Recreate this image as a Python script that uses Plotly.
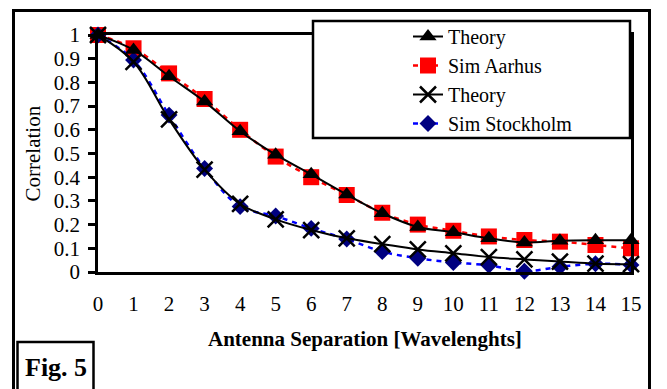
import plotly.graph_objects as go

# ---- data ----
separation = list(range(16))
theory_aarhus = [1.0, 0.937, 0.826, 0.719, 0.594, 0.495, 0.412, 0.327, 0.248, 0.19, 0.168, 0.142, 0.125, 0.132, 0.134, 0.134]
sim_aarhus = [1.0, 0.944, 0.838, 0.73, 0.60, 0.487, 0.40, 0.325, 0.25, 0.20, 0.174, 0.15, 0.135, 0.128, 0.114, 0.10]
theory_stockholm = [1.0, 0.887, 0.644, 0.432, 0.287, 0.222, 0.177, 0.142, 0.118, 0.095, 0.079, 0.063, 0.053, 0.044, 0.035, 0.033]
sim_stockholm = [1.0, 0.894, 0.662, 0.437, 0.276, 0.236, 0.184, 0.139, 0.086, 0.058, 0.04, 0.028, 0.003, 0.022, 0.035, 0.03]

x_tick_labels = [str(v) for v in separation]

W, H = 667, 389
L, R, T, B = 98, 667 - 631, 35, 389 - 272
PW, PH = W - L - R, H - T - B


def px(xp):
    return (xp - L) / PW


def py(yp):
    return (H - B - yp) / PH


FONT = "Liberation Serif"

fig = go.Figure()

fig.add_trace(go.Scatter(
    x=separation, y=sim_aarhus, name="Sim Aarhus", mode="lines+markers",
    line=dict(color="#FF0000", width=2.5, dash="5px,5px", shape="spline", smoothing=1),
    marker=dict(symbol="square", size=16, color="#FF0000"),
    cliponaxis=False, legendrank=2,
))
fig.add_trace(go.Scatter(
    x=separation, y=sim_stockholm, name="Sim Stockholm", mode="lines+markers",
    line=dict(color="#0000FF", width=2.5, dash="5px,5px", shape="spline", smoothing=1),
    marker=dict(symbol="diamond", size=13, color="#000080"),
    cliponaxis=False, legendrank=4,
))
fig.add_trace(go.Scatter(
    x=separation, y=theory_aarhus, name="Theory", mode="lines+markers",
    line=dict(color="black", width=2, shape="spline", smoothing=1),
    marker=dict(symbol="triangle-up", size=15, color="black"),
    cliponaxis=False, legendrank=1,
))
fig.add_trace(go.Scatter(
    x=separation, y=theory_stockholm, name="Theory ", mode="lines+markers",
    line=dict(color="black", width=2, shape="spline", smoothing=1),
    marker=dict(symbol="x-thin-open", size=16, color="black", line=dict(width=2.5, color="black")),
    cliponaxis=False, legendrank=3,
))

shapes = [
    # legend box
    dict(type="rect", xref="paper", yref="paper", x0=px(313), x1=px(630), y0=py(138), y1=py(21),
         fillcolor="white", line=dict(color="black", width=2.5), layer="above"),
    # outer frame
    dict(type="rect", xref="paper", yref="paper", x0=px(13.5), x1=px(649.5), y0=py(400), y1=py(10.5),
         fillcolor="rgba(0,0,0,0)", line=dict(color="black", width=3), layer="above"),
    # Fig. 5 box
    dict(type="rect", xref="paper", yref="paper", x0=px(17.5), x1=px(93.5), y0=py(400), y1=py(342),
         fillcolor="rgba(0,0,0,0)", line=dict(color="black", width=2.5), layer="above"),
]

annotations = [
    dict(text="Correlation", xref="paper", yref="paper", x=px(32), y=0.5, textangle=-90,
         showarrow=False, xanchor="center", yanchor="middle", font=dict(family=FONT, size=21, color="black")),
    dict(text="<b>Antenna Separation [Wavelenghts]</b>", xref="paper", yref="paper", x=0.5, y=py(339),
         showarrow=False, xanchor="center", yanchor="middle", font=dict(family=FONT, size=21, color="black")),
    dict(text="<b>Fig. 5</b>", xref="paper", yref="paper", x=px(56), y=py(367),
         showarrow=False, xanchor="center", yanchor="middle", font=dict(family=FONT, size=26, color="black")),
]

fig.update_layout(
    width=W, height=H,
    margin=dict(l=L, r=R, t=T, b=B, autoexpand=False),
    paper_bgcolor="white", plot_bgcolor="white",
    font=dict(family=FONT, size=21, color="black"),
    showlegend=True,
    legend=dict(
        x=px(408), y=py(17), xanchor="left", yanchor="top",
        bgcolor="rgba(0,0,0,0)", borderwidth=0,
        font=dict(family=FONT, size=20, color="black"),
        traceorder="normal", tracegroupgap=0,
    ),
    shapes=shapes,
    annotations=annotations,
    xaxis=dict(
        range=[0, 15], tickmode="array", tickvals=separation, ticktext=x_tick_labels,
        showgrid=False, zeroline=False, showline=True, linecolor="black", linewidth=2.5,
        mirror=True, ticks="", ticklabelstandoff=11, tickfont=dict(family=FONT, size=21, color="black"),
    ),
    yaxis=dict(
        range=[0, 1], dtick=0.1, tick0=0,
        showgrid=False, zeroline=False, showline=True, linecolor="black", linewidth=2.5,
        mirror=True, ticks="outside", ticklen=7, tickwidth=2.5, tickcolor="black",
        ticklabelstandoff=4, tickfont=dict(family=FONT, size=21, color="black"),
    ),
)

fig.write_html("out.html", config={"displayModeBar": False},
               post_script="document.body.style.margin='0px';")
